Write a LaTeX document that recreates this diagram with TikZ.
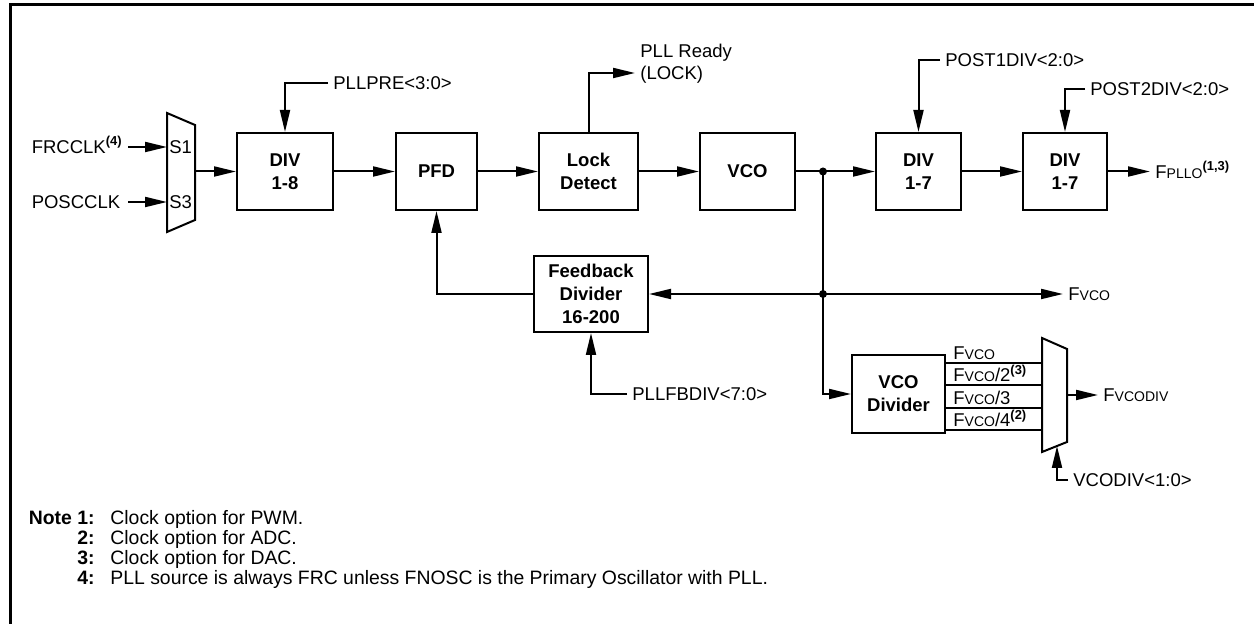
\documentclass[tikz,border=0pt]{standalone}
\usepackage{fontspec}
\setmainfont{Liberation Sans}
\usetikzlibrary{arrows.meta}
\newcommand{\lowcap}[1]{{\fontsize{7pt}{7pt}\selectfont #1}}
\newcommand{\noteref}[1]{\textsuperscript{\bfseries(#1)}}

\begin{document}
\begin{tikzpicture}[x=0.5pt,y=-0.5pt,
  font=\fontsize{9.25pt}{11pt}\selectfont,
  blk/.style={draw, line width=1pt, minimum height=38.5pt, inner sep=0pt, align=center,
    font=\fontsize{9.25pt}{11.5pt}\selectfont\bfseries},
  lbl/.style={inner sep=2.5pt, text height=7.6pt, text depth=1pt},
  sig/.style={line width=1pt, -{Triangle[length=11pt,width=5pt]}},
  wire/.style={line width=1pt},
  notenum/.style={anchor=base east, inner sep=0pt, font=\fontsize{9.7pt}{11pt}\selectfont\bfseries},
  notetxt/.style={anchor=base west, inner sep=0pt, font=\fontsize{9.7pt}{11pt}\selectfont}]
\useasboundingbox (0,0) rectangle (1254,624);
\draw[line width=1.5pt] (10,624) -- (10,5) -- (1254,5);
% main chain
\node[blk, minimum width=48pt] (div8) at (285,171.5) {DIV\\1-8};
\node[blk, minimum width=40.5pt] (pfd) at (436.5,171.5) {PFD};
\node[blk, minimum width=49.5pt] (lock) at (588.5,171.5) {Lock\\Detect};
\node[blk, minimum width=47.5pt] (vco) at (747.5,171.5) {VCO};
\node[blk, minimum width=42.5pt] (post1) at (918.5,171.5) {DIV\\1-7};
\node[blk, minimum width=42pt] (post2) at (1065,171.5) {DIV\\1-7};
\node[blk, minimum width=57pt, minimum height=38pt] (fbdiv) at (591,294) {Feedback\\Divider\\16-200};
\node[blk, minimum width=46.5pt, minimum height=39pt] (vcodiv) at (898.5,394) {VCO\\Divider};
% input mux
\draw[wire] (167,113) -- (195,125) -- (195,220) -- (167,232) -- cycle;
\coordinate (m1a) at (167,147);
\coordinate (m1b) at (167,202);
\coordinate (m1o) at (195,171.5);
\node[anchor=west, inner sep=1pt] (s1) at (m1a) {S1};
\node[anchor=west, inner sep=1pt] (s3) at (m1b) {S3};
\node[lbl, anchor=east] (frc) at (128,147) {FRCCLK\noteref{4}};
\node[lbl, anchor=west] (posc) at (frc.west |- m1b) {POSCCLK};
\draw[sig] (frc) -- (m1a);
\draw[sig] (posc.east -| frc.east) -- (m1b);
\draw[sig] (m1o) -- (div8);
\draw[sig] (div8) -- (pfd);
\draw[sig] (pfd) -- (lock);
\draw[sig] (lock) -- (vco);
\draw[sig] (vco) -- (post1);
\draw[sig] (post1) -- (post2);
\node[lbl, anchor=west] (fpllo) at (1150,171.5) {F\lowcap{PLLO}\noteref{1,3}};
\draw[sig] (post2) -- (fpllo);
% control inputs
\node[lbl, anchor=west] (pllpre) at (328,83) {PLLPRE<3:0>};
\draw[sig] (pllpre.west) -| (div8.north);
\node[lbl, anchor=west, align=left] (ready) at (635,73) {PLL Ready\\(LOCK)};
\draw[sig] (lock.north) |- (ready.west);
\node[lbl, anchor=west] (p1sel) at (940,60) {POST1DIV<2:0>};
\draw[sig] (p1sel.west) -| (post1.north);
\node[lbl, anchor=west] (p2sel) at (1085,89) {POST2DIV<2:0>};
\draw[sig] (p2sel.west) -| (post2.north);
% feedback path
\coordinate (j1) at (823,171.5);
\coordinate (j2) at (823,294);
\draw[wire] (j1) -- (j2);
\draw[sig] (j2) -- (fbdiv);
\node[lbl, anchor=west] (fvco) at (1063,294) {F\lowcap{VCO}};
\draw[sig] (j2) -- (fvco);
\draw[sig] (fbdiv.west) -| (pfd.south);
\node[lbl, anchor=west] (fbsel) at (627,394) {PLLFBDIV<7:0>};
\draw[sig] (fbsel.west) -| (fbdiv.south);
\draw[sig] (j2) |- (vcodiv.west);
\fill (j1) circle (2pt);
\fill (j2) circle (2pt);
% output mux
\draw[wire] (1042,338) -- (1067,349) -- (1067,442) -- (1042,452) -- cycle;
\coordinate (m2a) at (1042,363);
\coordinate (m2b) at (1042,385);
\coordinate (m2c) at (1042,408);
\coordinate (m2d) at (1042,430);
\draw[wire] (vcodiv.east |- m2a) -- (m2a);
\draw[wire] (vcodiv.east |- m2b) -- (m2b);
\draw[wire] (vcodiv.east |- m2c) -- (m2c);
\draw[wire] (vcodiv.east |- m2d) -- (m2d);
\node[anchor=base west, inner sep=0pt] (fa) at (953,360) {F\lowcap{VCO}};
\node[anchor=base west, inner sep=0pt] (fb) at (953,382) {F\lowcap{VCO}/2\noteref{3}};
\node[anchor=base west, inner sep=0pt] (fc) at (953,405) {F\lowcap{VCO}/3};
\node[anchor=base west, inner sep=0pt] (fd) at (953,427) {F\lowcap{VCO}/4\noteref{2}};
\coordinate (m2o) at (1067,395);
\node[lbl, anchor=west] (fvcodiv) at (1098,395) {F\lowcap{VCODIV}};
\draw[sig] (m2o) -- (fvcodiv);
\coordinate (m2s) at (1057,446);
\node[lbl, anchor=west] (vsel) at (1068,480) {VCODIV<1:0>};
\draw[sig] (vsel.west) -| (m2s);
% notes
\node[notenum] (n1) at (95,525) {Note 1:};
\node[notenum] (n2) at (95,545) {2:};
\node[notenum] (n3) at (95,565) {3:};
\node[notenum] (n4) at (95,585) {4:};
\node[notetxt] (t1) at (110,525) {Clock option for PWM.};
\node[notetxt] (t2) at (110,545) {Clock option for ADC.};
\node[notetxt] (t3) at (110,565) {Clock option for DAC.};
\node[notetxt] (t4) at (110,585) {PLL source is always FRC unless FNOSC is the Primary Oscillator with PLL.};
\end{tikzpicture}
\end{document}
